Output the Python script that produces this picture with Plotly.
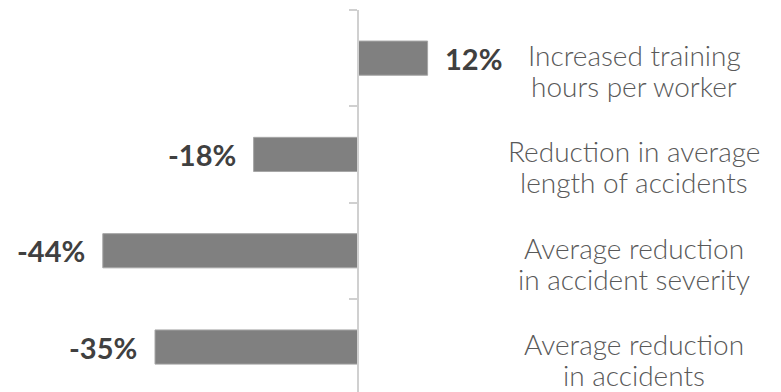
import plotly.graph_objects as go

categories = ["Increased training<br>hours per worker",
              "Reduction in average<br>length of accidents",
              "Average reduction<br>in accident severity",
              "Average reduction<br>in accidents"]
values = [12, -18, -44, -35]
value_labels = ["12%", "-18%", "-44%", "-35%"]

W, H = 781, 392
zero_px = 358
px_per_unit = 5.8
x_range = [-zero_px / px_per_unit, (W - zero_px) / px_per_unit]
pos = list(range(len(categories)))

fig = go.Figure()
fig.add_trace(go.Bar(
    x=values, y=pos, orientation="h", width=0.355,
    marker=dict(color="#808080", line=dict(color="#a6a6a6", width=1)),
    hoverinfo="skip",
))

line_gap = 31
for p, v, lab, cat in zip(pos, values, value_labels, categories):
    fig.add_annotation(
        x=v, y=p, xref="x", yref="y", text="<b>" + lab + "</b>",
        showarrow=False, xanchor="left" if v >= 0 else "right",
        xshift=15 if v >= 0 else -16, yshift=0,
        font=dict(family="Lato", size=29, color="#404040"),
    )
    for i, line in enumerate(cat.split("<br>")):
        fig.add_annotation(
            x=634 / W, y=p, xref="paper", yref="y", text=line,
            showarrow=False, xanchor="center", yanchor="middle", align="center",
            yshift=3 - i * line_gap, borderpad=0,
            font=dict(family="Lato", size=28, color="#595959", weight=300),
        )

fig.update_layout(
    width=W, height=H,
    margin=dict(l=0, r=0, t=10, b=0),
    plot_bgcolor="white", paper_bgcolor="white",
    showlegend=False,
    xaxis=dict(range=x_range, visible=False, fixedrange=True),
    yaxis=dict(range=[3.467, -0.5], anchor="free", position=zero_px / W,
               showline=True, linecolor="#d0d0d0", linewidth=2,
               ticks="outside", ticklen=8, tickwidth=2, tickcolor="#d0d0d0",
               tickvals=[-0.5, 0.5, 1.5, 2.5], showticklabels=False,
               showgrid=False, zeroline=False),
)

fig.write_html("out.html")
